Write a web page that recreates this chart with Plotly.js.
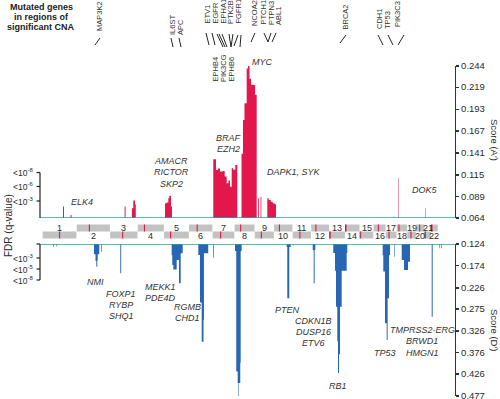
<!DOCTYPE html>
<html><head><meta charset="utf-8">
<script src="https://cdn.plot.ly/plotly-3.0.1.min.js"></script>
<style>html,body{margin:0;padding:0;background:#fff}#chart{width:500px;height:399px}</style>
</head><body><div id="chart"></div>
<script>
// ---------- DATA ----------
const chromNames = ['1','2','3','4','5','6','7','8','9','10','11','12','13','14','15','16','17','18','19','20','21','22'];
const chromLen   = [247,243,199,191,181,171,159,146,140,135,134,132,114,106,100,89,79,76,64,62,47,50]; // Mb
const centromere = [124,93,91,50,48,60,59,45,49,40,53,35,17,17,18,36,24,17,28,27,13,14];   // Mb
const acrocentric = ['13','14','15','21','22'];

// amplification score A' (genome position in Mb, step profile)
const ampPos   = [0,148.5,155.8,203.6,210.9,594.9,602.1,648.5,658,670.3,676,887.6,900,911.5,918.8,931,938.4,
  1237.6,1257.2,1271.7,1286.2,1305.7,1320.2,1334.7,1347.7,1358.6,1370.9,1382.5,1397,1411.5,
  1442,1453,1463.6,1479.6,1489,1500,1511,1525.4,1539.9,1552,
  1561.5,1567.3,1580.3,1586,1629,1639,1653.5,1668,1682.5,1692,2881];
const ampScore = [0.064,0.0774,0.064,0.0676,0.064,0.0774,0.064,0.0755,0.0845,0.080,0.064,0.0814,0.0823,0.0873,0.0904,0.0774,0.064,
  0.1335,0.1209,0.1225,0.119,0.1197,0.113,0.105,0.1085,0.101,0.1229,0.121,0.1268,0.064,
  0.14,0.18,0.20,0.241,0.244,0.229,0.222,0.2215,0.21,0.064,
  0.0873,0.064,0.0892,0.064,0.0873,0.0853,0.0833,0.0814,0.0802,0.064,0.064];
const ampThinPos   = [2545,2549,2576,2581,2774,2779];
const ampThinScore = [0.066,0.064,0.111,0.064,0.0755,0.064];

// deletion score D'
const delPos   = [0,76,80.4,97.8,102,373,384,390,397,400,411.6,426,431,563.7,570.3,
  936,940.5,948,972.4,989,1001.4,1016,1129,1141,1153.6,1166.6,1170,1201,1237.6,1242.7,
  1395,1404,1414.4,1420,1423.9,1433,1436,1443,1769.5,1773.8,1788,1798.5,1815,1819,
  1958,1965,1972,1976.7,2107,2119.5,2126.7,2136,2141,2148.5,2156,2168,2204,2208.5,
  2465,2469.4,2481.7,2494,2501,2510.7,2518,2547,2551,2602.8,2619.5,2648.5,2663,2820,2827.3,2873,2877,2887,2892];
const delScore = [0.124,0.131,0.124,0.130,0.124,0.148,0.163,0.177,0.163,0.148,0.124,0.142,0.124,0.192,0.124,
  0.150,0.173,0.183,0.161,0.2153,0.1456,0.124,0.1495,0.26,0.351,0.30,0.1456,0.124,0.156,0.124,
  0.14,0.42,0.447,0.477,0.447,0.40,0.14,0.124,0.131,0.25,0.131,0.124,0.128,0.124,
  0.138,0.215,0.138,0.124,0.145,0.186,0.27,0.35,0.424,0.38,0.27,0.186,0.145,0.124,
  0.15,0.188,0.308,0.347,0.25,0.15,0.124,0.1535,0.124,0.161,0.1844,0.165,0.124,0.2928,0.124,0.134,0.124,0.134,0.124];

const ampTicks = [0.064,0.089,0.115,0.141,0.167,0.193,0.219,0.244];
const delTicks = [0.124,0.174,0.226,0.275,0.326,0.376,0.426,0.477];
const fdrAmpLabels = ['<10<sup>-8</sup>','<10<sup>-6</sup>','<10<sup>-3</sup>'];
const fdrDelLabels = ['<10<sup>-3</sup>','<10<sup>-5</sup>','<10<sup>-8</sup>'];

const topGenes = ['MAP3K2','IL6ST','APC','ETV1','EGFR','EPHA1','PTK2B','FGFR1','NCOA2','PTCH1','PTPN3','ABL1','BRCA2','CDH1','TP53','PIK3C3'];
const chr7Genes = ['EPHB4','PIK3CG','EPHB6'];
const ampLabels = [['MYC'],['BRAF','EZH2'],['AMACR','RICTOR','SKP2'],['ELK4'],['DAPK1, SYK'],['DOK5']];
const delLabels = [['NMI'],['FOXP1','RYBP','SHQ1'],['MEKK1','PDE4D'],['RGMB','CHD1'],['PTEN'],['CDKN1B','DUSP16','ETV6'],['RB1'],['TP53'],['TMPRSS2-ERG','BRWD1','HMGN1']];

// ---------- LAYOUT HELPERS ----------
const FONT = 'Liberation Sans, Arial, Helvetica, sans-serif';
const W = 500, H = 399, ML = 40, MR = 45, MT = 66, MB = 3;
const PW = W - ML - MR, PH = H - MT - MB;
const px = p => (p - ML) / PW;
const py = p => (H - MB - p) / PH;
const RED = '#e3174c', BLUE = '#2766b4', TEAL = '#21a3a3', GRAY = '#c2c2c2', TXT = '#2b2b2b';

const offsets = [];
let acc = 0;
chromLen.forEach(l => { offsets.push(acc); acc += l; });

const shapes = [], annotations = [];

// chromosome band
const bandUpper = [py(224.5), py(231.5)], bandLower = [py(231.5), py(238.5)];
chromNames.forEach((c, i) => {
  const row = (i % 2 === 1) ? bandUpper : bandLower;
  const x0 = offsets[i] + 1, x1 = offsets[i] + chromLen[i] - 1;
  shapes.push({type:'rect', xref:'x', yref:'paper', x0, x1, y0: row[1], y1: row[0], fillcolor: GRAY, line:{width:0}, layer:'above'});
  if (acrocentric.includes(c)) {
    shapes.push({type:'rect', xref:'x', yref:'paper', x0, x1: x0 + 5, y0: row[1], y1: row[0], fillcolor:'#1a1a1a', line:{width:0}, layer:'above'});
    shapes.push({type:'rect', xref:'x', yref:'paper', x0: x0 + 5, x1: x0 + 10, y0: row[1], y1: row[0], fillcolor: RED, line:{width:0}, layer:'above'});
  } else {
    const cm = offsets[i] + centromere[i];
    shapes.push({type:'rect', xref:'x', yref:'paper', x0: cm - 4, x1: cm + 4, y0: row[1], y1: row[0], fillcolor: RED, line:{width:0}, layer:'above'});
  }
  const labRow = (i % 2 === 1) ? 235.5 : 227.5;
  annotations.push({xref:'x', yref:'paper', x: offsets[i] + chromLen[i] / 2, y: py(labRow), text: c, showarrow:false,
    font:{family:FONT, size:9, color:TXT}, xanchor:'center', yanchor:'middle', borderpad:0});
});

// teal baselines
shapes.push({type:'line', xref:'paper', yref:'y', x0:0, x1:1, y0:0.064, y1:0.064, line:{color:TEAL, width:1.5}, layer:'above'});
shapes.push({type:'line', xref:'paper', yref:'y2', x0:0, x1:1, y0:0.124, y1:0.124, line:{color:TEAL, width:1.5}, layer:'above'});

// left FDR brackets
const K = '#222';
const bracket = (ys, yTop, yBot) => {
  shapes.push({type:'line', xref:'paper', yref:'paper', x0:px(40), x1:px(40), y0:py(yTop), y1:py(yBot), line:{color:K, width:1.2}});
  ys.forEach(y => shapes.push({type:'line', xref:'paper', yref:'paper', x0:px(36.5), x1:px(40), y0:py(y), y1:py(y), line:{color:K, width:1.2}}));
};
const ampFdrY = [172.5, 186.5, 201], delFdrY = [258, 269, 280];
bracket(ampFdrY, 172.5, 218);
bracket([244, ...delFdrY], 244, 280);
fdrAmpLabels.forEach((t, i) => annotations.push({xref:'paper', yref:'paper', x:px(35), y:py(ampFdrY[i]), text:t, showarrow:false, xanchor:'right', yanchor:'middle', font:{family:FONT, size:8.5, color:TXT}}));
fdrDelLabels.forEach((t, i) => annotations.push({xref:'paper', yref:'paper', x:px(35), y:py(delFdrY[i]), text:t, showarrow:false, xanchor:'right', yanchor:'middle', font:{family:FONT, size:8.5, color:TXT}}));
annotations.push({xref:'paper', yref:'paper', x:px(8), y:py(226), text:'FDR (q-value)', textangle:-90, showarrow:false, xanchor:'center', yanchor:'middle', font:{family:FONT, size:10, color:TXT}});

// right axis titles
annotations.push({xref:'paper', yref:'paper', x:px(495), y:py(140), text:'Score (A\u2032)', textangle:90, showarrow:false, xanchor:'center', yanchor:'middle', font:{family:FONT, size:9.5, color:TXT}});
annotations.push({xref:'paper', yref:'paper', x:px(495), y:py(330), text:'Score (D\u2032)', textangle:90, showarrow:false, xanchor:'center', yanchor:'middle', font:{family:FONT, size:9.5, color:TXT}});

// header
[['Mutated genes',7],['in regions of',17],['significant CNA',27]].forEach(([t, y]) =>
  annotations.push({xref:'paper', yref:'paper', x:px(41), y:py(y), text:'<b>'+t+'</b>', showarrow:false, xanchor:'center', yanchor:'middle', font:{family:FONT, size:9, color:'#222'}}));

// top rotated gene labels + connectors
const topX = [100,172,180,207,215,223,230,238,255,263,271,278,345,379,387,397];
const topB = [33,37,37,26,26,26,26,26,28,27,27,27,32,31,31,29];
topGenes.forEach((g, i) => annotations.push({xref:'paper', yref:'paper', x:px(topX[i]), y:py(topB[i]), text:g, textangle:-90, showarrow:false,
  xanchor:'center', yanchor:'bottom', font:{family:FONT, size:7.5, color:'#333'}}));
const conn = [[100,38,95,45],[171,38,173,47],[179,38,181,47],[206,33,209,45],[212,33,215,45],[217,34,223,47],[219,34,225,47],[222,34,227,47],
  [229,34,231,47],[233,34,231,47],[238,35,234,46],[241,35,240,47],[255,33,251,42],[264,33,268,42],[271,33,268,42],[276,33,272,42],
  [346,35,340,43],[378,35,383,45],[388,35,393,45],[404,35,398,45]];
conn.forEach(([x0,y0,x1,y1]) => shapes.push({type:'line', xref:'paper', yref:'paper', x0:px(x0), y0:py(y0), x1:px(x1), y1:py(y1), line:{color:'#222', width:1}}));
const c7X = [215,223,231];
chr7Genes.forEach((g, i) => annotations.push({xref:'paper', yref:'paper', x:px(c7X[i]), y:py(84), text:g, textangle:-90, showarrow:false,
  xanchor:'center', yanchor:'bottom', font:{family:FONT, size:7.5, color:'#333'}}));

// italic gene labels
const ampLabPos = [[262,62],[228,138],[171,161],[82,201.5],[294,172],[425,190]];
const delLabPos = [[95,281.5],[121,293.5],[160,286.5],[187,306.5],[287,309.5],[313,320.5],[338,385.5],[385,352.5],[422,330]];
const addItal = (groups, pos) => groups.forEach((lines, i) => lines.forEach((t, j) =>
  annotations.push({xref:'paper', yref:'paper', x:px(pos[i][0]), y:py(pos[i][1] + j * 11.3), text:'<i>'+t+'</i>', showarrow:false,
    xanchor:'center', yanchor:'middle', font:{family:FONT, size:9, color:'#333'}})));
addItal(ampLabels, ampLabPos);
addItal(delLabels, delLabPos);

// ---------- TRACES ----------
const traces = [
  {x: ampPos, y: ampScore, xaxis:'x', yaxis:'y', type:'scatter', mode:'lines', line:{shape:'hv', width:0, color:RED}, fill:'tozeroy', fillcolor:RED, hoverinfo:'skip'},
  {x: ampThinPos, y: ampThinScore, xaxis:'x', yaxis:'y', type:'scatter', mode:'lines', line:{shape:'hv', width:0, color:'#dd6b8c'}, fill:'tozeroy', fillcolor:'#dd6b8c', hoverinfo:'skip'},
  {x: delPos, y: delScore, xaxis:'x', yaxis:'y2', type:'scatter', mode:'lines', line:{shape:'hv', width:0, color:BLUE}, fill:'tozeroy', fillcolor:BLUE, hoverinfo:'skip'}
];

const axisCommon = {side:'right', showgrid:false, zeroline:false, showline:true, linecolor:'#333', linewidth:1.2, ticks:'outside', ticklen:3, tickwidth:1.2, tickcolor:'#333',
  tickfont:{family:FONT, size:9.5, color:TXT}, ticklabeloverflow:'allow', fixedrange:true};
const layout = {
  width: W, height: H, margin:{l:ML, r:MR, t:MT, b:MB}, paper_bgcolor:'#fff', plot_bgcolor:'rgba(0,0,0,0)', showlegend:false,
  xaxis:{range:[-18, 2989], visible:false, fixedrange:true, anchor:'y2'},
  yaxis: Object.assign({domain:[py(218), 1], range:[0.0639, 0.2441], tickvals: ampTicks, ticktext: ampTicks.map(v => v.toFixed(3)), anchor:'x'}, axisCommon),
  yaxis2: Object.assign({domain:[0, py(244)], range:[0.4772, 0.1239], tickvals: delTicks, ticktext: delTicks.map(v => v.toFixed(3)), anchor:'x'}, axisCommon),
  shapes, annotations
};
Plotly.newPlot('chart', traces, layout, {displayModeBar:false, staticPlot:true});
</script></body></html>
